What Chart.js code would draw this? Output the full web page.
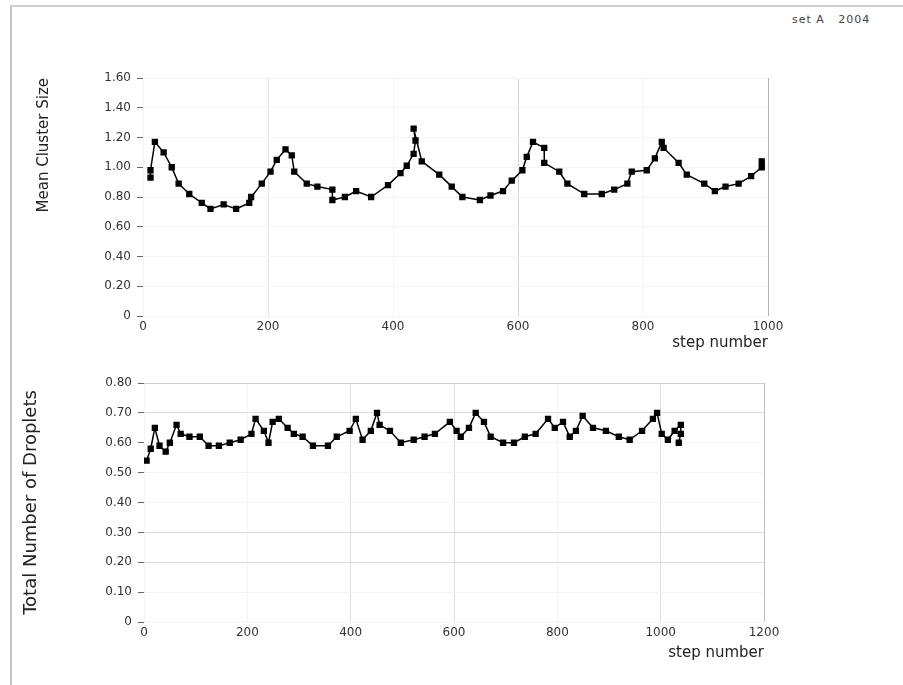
<!DOCTYPE html>
<html>
<head>
<meta charset="utf-8">
<script src="https://cdn.jsdelivr.net/npm/chart.js@4.4.1/dist/chart.umd.min.js"></script>
<style>
  html, body { margin: 0; padding: 0; background: #fff; }
  body { width: 903px; height: 685px; position: relative; overflow: hidden; font-family: "DejaVu Sans", sans-serif; }
  #frame { position: absolute; left: 10px; top: 5px; width: 893px; height: 680px;
           border-left: 2px solid #c4c4c4; border-top: 2px solid #cfcfcf; box-sizing: border-box; }
  #note { position: absolute; left: 792px; top: 13px; font-size: 11px; color: #444; letter-spacing: 1px; white-space: pre; }
  .wrap { position: absolute; left: 20px; width: 780px; height: 310px; }
  #w1 { top: 50px; }
  #w2 { top: 360px; }
</style>
</head>
<body>
<div id="frame"></div>
<div id="note">set A   2004</div>
<div class="wrap" id="w1"><canvas id="c1"></canvas></div>
<div class="wrap" id="w2"><canvas id="c2"></canvas></div>
<script>
// ---- Top panel data ----
const topSteps = [12, 12, 19, 33, 46, 57, 74, 94, 108, 129, 149, 170, 173, 190, 204, 214, 228, 238, 242, 262,
  279, 303, 303, 323, 341, 365, 392, 412, 422, 433, 436, 433, 446, 474, 494, 511, 539, 556, 576, 590,
  607, 614, 624, 642, 642, 666, 679, 706, 734, 754, 775, 782, 806, 819, 830, 833, 857, 870, 898, 915,
  932, 953, 973, 990, 990];
const topValues = [0.93, 0.98, 1.17, 1.10, 1.00, 0.89, 0.82, 0.76, 0.72, 0.75, 0.72, 0.76, 0.80, 0.89, 0.97, 1.05, 1.12, 1.08, 0.97, 0.89,
  0.87, 0.85, 0.78, 0.80, 0.84, 0.80, 0.88, 0.96, 1.01, 1.09, 1.18, 1.26, 1.04, 0.95, 0.87, 0.80, 0.78, 0.81, 0.84, 0.91,
  0.98, 1.07, 1.17, 1.13, 1.03, 0.97, 0.89, 0.82, 0.82, 0.85, 0.89, 0.97, 0.98, 1.06, 1.17, 1.13, 1.03, 0.95, 0.89, 0.84,
  0.87, 0.89, 0.94, 1.00, 1.04];

// ---- Bottom panel data ----
const botSteps = [5, 13, 21, 30, 42, 50, 63, 71, 88, 108, 125, 145, 166, 187, 208, 216, 232, 241, 249, 261,
  278, 290, 307, 327, 356, 373, 398, 410, 423, 439, 451, 456, 476, 497, 522, 543, 563, 592, 605, 613,
  629, 642, 658, 671, 695, 716, 737, 758, 782, 795, 811, 824, 836, 849, 869, 894, 919, 940, 964, 985,
  993, 1002, 1014, 1027, 1039, 1039, 1035];
const botValues = [0.54, 0.58, 0.65, 0.59, 0.57, 0.60, 0.66, 0.63, 0.62, 0.62, 0.59, 0.59, 0.60, 0.61, 0.63, 0.68, 0.64, 0.60, 0.67, 0.68,
  0.65, 0.63, 0.62, 0.59, 0.59, 0.62, 0.64, 0.68, 0.61, 0.64, 0.70, 0.66, 0.64, 0.60, 0.61, 0.62, 0.63, 0.67, 0.64, 0.62,
  0.65, 0.70, 0.67, 0.62, 0.60, 0.60, 0.62, 0.63, 0.68, 0.65, 0.67, 0.62, 0.64, 0.69, 0.65, 0.64, 0.62, 0.61, 0.64, 0.68,
  0.70, 0.63, 0.61, 0.64, 0.66, 0.63, 0.60];

// ---- Axis settings / labels ----
const topXTicks = { min: 0, max: 1000, step: 200 };
const topYTicks = { min: 0, max: 1.6, step: 0.2 };
const botXTicks = { min: 0, max: 1200, step: 200 };
const botYTicks = { min: 0, max: 0.8, step: 0.1 };
const topYTitle = "Mean Cluster Size";
const botYTitle = "Total Number of Droplets";
const xTitle = "step number";

const tickFont = { family: "DejaVu Sans", size: 12 };
const titleFont = { family: "DejaVu Sans", size: 15 };

function pts(xs, ys) { return xs.map((x, i) => ({ x: x, y: ys[i] })); }
function fmtY(v) { return Math.abs(v) < 1e-9 ? '0' : v.toFixed(2); }
function near(a, b) { return Math.abs(a - b) < 1e-6; }

function makeChart(id, data, xt, yt, yTitle, yTitleFont, yTitlePad, yTitleAlign, dims, xGrid, yGrid) {
  return new Chart(document.getElementById(id), {
    type: 'line',
    data: { datasets: [{
      data: data,
      borderColor: '#000', backgroundColor: '#000',
      borderWidth: 1.5, pointStyle: 'rect', pointRadius: 3.4, pointHoverRadius: 3.4,
      tension: 0, fill: false
    }]},
    options: {
      responsive: true, maintainAspectRatio: false, animation: false,
      layout: { padding: { top: dims.top, right: dims.right, left: 0, bottom: 0 } },
      plugins: { legend: { display: false }, tooltip: { enabled: false } },
      scales: {
        x: {
          type: 'linear', min: xt.min, max: xt.max,
          border: { display: false },
          grid: { color: xGrid, lineWidth: 1, drawTicks: false },
          ticks: { stepSize: xt.step, font: tickFont, color: '#333', padding: 4, maxRotation: 0,
                   callback: v => String(v) },
          title: { display: true, text: xTitle, align: 'end', font: titleFont, color: '#222',
                   padding: { top: 0, bottom: 8 } },
          afterFit: s => { s.height = dims.xh; }
        },
        y: {
          min: yt.min, max: yt.max,
          border: { display: false },
          grid: { color: yGrid, lineWidth: 1, drawTicks: true, tickLength: 6, tickColor: '#666' },
          ticks: { stepSize: yt.step, font: tickFont, color: '#333', padding: 6, callback: fmtY },
          title: { display: true, text: yTitle, align: yTitleAlign, font: yTitleFont, color: '#222',
                   padding: { top: yTitlePad, bottom: 0 } },
          afterFit: s => { s.width = dims.yw; }
        }
      }
    }
  });
}

// top panel grid colours
const topXGrid = ctx => {
  const v = ctx.tick ? ctx.tick.value : 0;
  if (near(v, 1000)) return '#b0b0b0';
  if (near(v, 600)) return '#d6d6d6';
  if (near(v, 200)) return '#e2e2e2';
  return '#f3f3f3';
};
const topYGrid = () => '#f4f4f4';

// bottom panel grid colours
const botXGrid = ctx => {
  const v = ctx.tick ? ctx.tick.value : 0;
  if (near(v, 1200)) return '#c0c0c0';
  if (near(v, 400) || near(v, 600) || near(v, 1000)) return '#dedede';
  return '#f3f3f3';
};
const botYGrid = ctx => {
  const v = ctx.tick ? ctx.tick.value : 0;
  if (near(v, 0.8)) return '#d0d0d0';
  if (near(v, 0.7) || near(v, 0.3) || near(v, 0.2)) return '#dcdcdc';
  return '#f4f4f4';
};

makeChart('c1', pts(topSteps, topValues), topXTicks, topYTicks, topYTitle,
  { family: "DejaVu Sans", size: 15 }, 15, 'end',
  { top: 28, right: 32, xh: 44, yw: 123 }, topXGrid, topYGrid);

makeChart('c2', pts(botSteps, botValues), botXTicks, botYTicks, botYTitle,
  { family: "DejaVu Sans", size: 18 }, 1, 'center',
  { top: 23, right: 36, xh: 48, yw: 124 }, botXGrid, botYGrid);
</script>
</body>
</html>
